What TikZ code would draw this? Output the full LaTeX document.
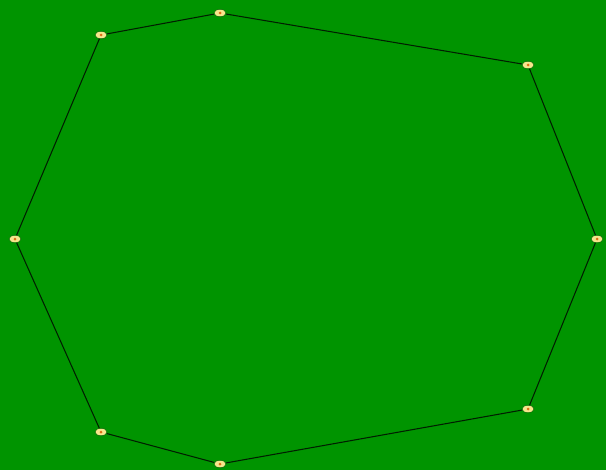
\documentclass[tikz,border=0pt]{standalone}
\usepackage{tikz}
\usetikzlibrary{shapes.geometric}

\definecolor{lawn}{RGB}{0,148,0}
\definecolor{pin}{RGB}{246,230,140}
\definecolor{pinhole}{RGB}{220,110,20}

\begin{document}
\begin{tikzpicture}[
      x=0.02cm, y=-0.02cm,
      vtx/.style = {ellipse, draw=lawn!70!black, line width=0.3pt, fill=pin,
                    minimum width=2.4mm, minimum height=1.5mm, inner sep=0pt},
      rim/.style = {draw=black!80!lawn, line width=0.6pt}
    ]
    % baggrund
    \fill[lawn] (0,0) rectangle (606,470);
    \useasboundingbox (0,0) rectangle (606,470);
    % hjørner
    \node[vtx] (a) at (101,35)  {};
    \node[vtx] (b) at (220,13)  {};
    \node[vtx] (c) at (528,65)  {};
    \node[vtx] (d) at (597,239) {};
    \node[vtx] (e) at (528,409) {};
    \node[vtx] (f) at (220,464) {};
    \node[vtx] (g) at (101,432) {};
    \node[vtx] (h) at (15,239)  {};
    % kanter
    \draw[rim] (a) -- (b);
    \draw[rim] (b) -- (c);
    \draw[rim] (c) -- (d);
    \draw[rim] (d) -- (e);
    \draw[rim] (e) -- (f);
    \draw[rim] (f) -- (g);
    \draw[rim] (g) -- (h);
    \draw[rim] (h) -- (a);
    % prikker
    \foreach \n in {a,b,c,d,e,f,g,h}
      \fill[pinhole] (\n.center) circle (0.3mm);
  \end{tikzpicture}
\end{document}
